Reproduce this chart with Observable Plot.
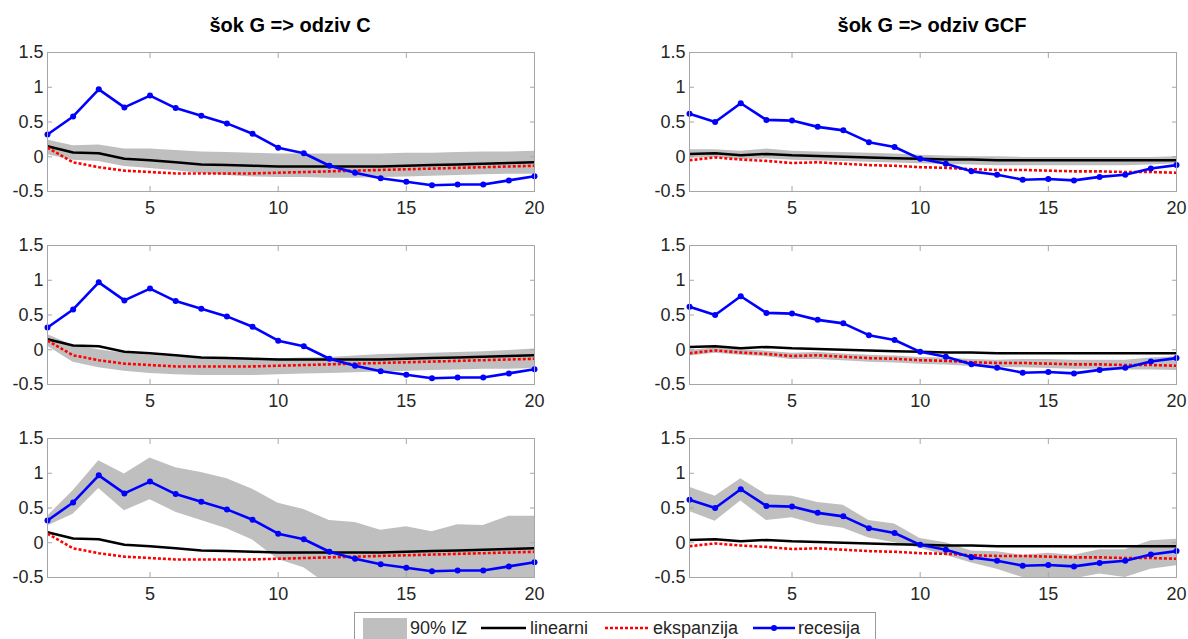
<!DOCTYPE html>
<html>
<head>
<meta charset="utf-8">
<script src="https://cdn.jsdelivr.net/npm/d3@7"></script>
<script src="https://cdn.jsdelivr.net/npm/@observablehq/plot@0.6"></script>
<style>
  html, body { margin: 0; padding: 0; background: #fff; width: 1188px; height: 639px; overflow: hidden; }
  body { position: relative; font-family: "Liberation Sans", Arial, sans-serif; color: #262626; }
  .panel { position: absolute; }
  .title { position: absolute; font-weight: bold; font-size: 20px; line-height: 20px; color: #000; transform: translateX(-50%); white-space: nowrap; }
  #legend { position: absolute; left: 0; top: 0; }
</style>
</head>
<body>
<div class="title" style="left:290px; top:15px;">šok G =&gt; odziv C</div>
<div class="title" style="left:932px; top:15px;">šok G =&gt; odziv GCF</div>
<div id="p00" class="panel" style="left:0px; top:42px;"></div>
<div id="p01" class="panel" style="left:594px; top:42px;"></div>
<div id="p10" class="panel" style="left:0px; top:235px;"></div>
<div id="p11" class="panel" style="left:594px; top:235px;"></div>
<div id="p20" class="panel" style="left:0px; top:428px;"></div>
<div id="p21" class="panel" style="left:594px; top:428px;"></div>
<svg id="legend" width="1188" height="639" style="pointer-events:none">
  <rect x="354.5" y="612.5" width="521" height="40" fill="#fff" stroke="#9a9a9a" stroke-width="1"/>
  <rect x="363" y="618" width="44" height="21" fill="#bfbfbf"/>
  <text x="410" y="634" font-size="18" fill="#262626" font-family="Liberation Sans, Arial, sans-serif">90% IZ</text>
  <line x1="481" y1="628" x2="526" y2="628" stroke="#000" stroke-width="2.5"/>
  <text x="530" y="634" font-size="18" fill="#262626" font-family="Liberation Sans, Arial, sans-serif">linearni</text>
  <line x1="605" y1="628" x2="649" y2="628" stroke="#ff0000" stroke-width="2.5" stroke-dasharray="3,2"/>
  <text x="653" y="634" font-size="18" fill="#262626" font-family="Liberation Sans, Arial, sans-serif">ekspanzija</text>
  <line x1="753" y1="628" x2="795" y2="628" stroke="#0000ff" stroke-width="2.5"/>
  <circle cx="774" cy="628" r="3" fill="#0000ff"/>
  <text x="798" y="634" font-size="18" fill="#262626" font-family="Liberation Sans, Arial, sans-serif">recesija</text>
</svg>
<script>
// ---- data ----
const periods = [1,2,3,4,5,6,7,8,9,10,11,12,13,14,15,16,17,18,19,20];
const xTicks = [5, 10, 15, 20];
const yTicks = [-0.5, 0, 0.5, 1, 1.5];

// response of C
const linC = [0.15,0.06,0.05,-0.03,-0.05,-0.08,-0.11,-0.12,-0.13,-0.14,-0.14,-0.14,-0.14,-0.14,-0.13,-0.12,-0.11,-0.10,-0.09,-0.08];
const expC = [0.13,-0.08,-0.15,-0.20,-0.22,-0.24,-0.24,-0.24,-0.24,-0.23,-0.22,-0.21,-0.20,-0.19,-0.18,-0.17,-0.16,-0.15,-0.14,-0.13];
const recC = [0.32,0.58,0.97,0.71,0.88,0.70,0.59,0.48,0.33,0.13,0.05,-0.13,-0.23,-0.31,-0.36,-0.41,-0.40,-0.40,-0.34,-0.28];
const linC_lo = [0.03,-0.05,-0.07,-0.14,-0.17,-0.20,-0.24,-0.27,-0.29,-0.30,-0.30,-0.31,-0.31,-0.30,-0.29,-0.28,-0.27,-0.26,-0.25,-0.25];
const linC_hi = [0.24,0.16,0.17,0.11,0.11,0.09,0.07,0.06,0.05,0.04,0.04,0.04,0.04,0.04,0.05,0.05,0.06,0.07,0.07,0.08];
const expC_lo = [0.05,-0.18,-0.26,-0.31,-0.34,-0.36,-0.37,-0.37,-0.37,-0.36,-0.35,-0.34,-0.33,-0.32,-0.31,-0.30,-0.29,-0.28,-0.28,-0.27];
const expC_hi = [0.22,0.06,0.00,-0.05,-0.08,-0.10,-0.12,-0.13,-0.13,-0.13,-0.12,-0.11,-0.09,-0.07,-0.06,-0.05,-0.04,-0.03,-0.01,0.01];
const recC_lo = [0.24,0.41,0.78,0.46,0.62,0.44,0.32,0.20,0.04,-0.24,-0.36,-0.62,-0.70,-0.75,-0.78,-0.80,-0.80,-0.78,-0.75,-0.72];
const recC_hi = [0.38,0.75,1.18,0.99,1.22,1.08,1.01,0.92,0.77,0.57,0.48,0.32,0.29,0.18,0.23,0.16,0.26,0.25,0.38,0.38];

// response of GCF
const linG = [0.04,0.05,0.02,0.04,0.02,0.01,0.00,-0.01,-0.02,-0.03,-0.04,-0.04,-0.05,-0.05,-0.05,-0.05,-0.05,-0.05,-0.05,-0.05];
const expG = [-0.05,-0.01,-0.04,-0.06,-0.09,-0.08,-0.10,-0.12,-0.13,-0.15,-0.16,-0.18,-0.19,-0.19,-0.20,-0.21,-0.21,-0.22,-0.22,-0.23];
const recG = [0.62,0.50,0.77,0.53,0.52,0.43,0.38,0.21,0.14,-0.03,-0.10,-0.21,-0.26,-0.33,-0.32,-0.34,-0.29,-0.26,-0.17,-0.12];
const linG_lo = [-0.02,-0.01,-0.04,-0.03,-0.05,-0.06,-0.07,-0.08,-0.09,-0.10,-0.11,-0.12,-0.13,-0.13,-0.13,-0.13,-0.13,-0.13,-0.12,-0.10];
const linG_hi = [0.10,0.10,0.08,0.11,0.08,0.07,0.06,0.05,0.04,0.02,0.01,0.00,0.00,-0.01,-0.01,-0.01,-0.01,-0.01,-0.01,0.00];
const expG_lo = [-0.09,-0.05,-0.08,-0.10,-0.14,-0.14,-0.16,-0.18,-0.19,-0.21,-0.22,-0.24,-0.25,-0.26,-0.27,-0.28,-0.28,-0.29,-0.29,-0.30];
const expG_hi = [-0.01,0.03,0.00,-0.02,-0.05,-0.04,-0.06,-0.08,-0.09,-0.11,-0.12,-0.14,-0.15,-0.14,-0.14,-0.15,-0.15,-0.15,-0.12,-0.10];
const recG_lo = [0.45,0.31,0.60,0.32,0.36,0.26,0.21,0.07,0.00,-0.08,-0.18,-0.29,-0.38,-0.50,-0.50,-0.52,-0.45,-0.50,-0.38,-0.33];
const recG_hi = [0.80,0.67,0.92,0.69,0.67,0.58,0.54,0.32,0.27,0.06,0.00,-0.12,-0.13,-0.18,-0.15,-0.18,-0.10,-0.10,0.03,0.05];

// ---- drawing ----
function rows(lin, exp, rec, lo, hi) {
  return periods.map((p, i) => ({p, lin: lin[i], exp: exp[i], rec: rec[i], lo: lo[i], hi: hi[i]}));
}

function panel(id, data, side) {
  const left = side === 0;
  const chart = Plot.plot({
    width: 594,
    height: 179,
    marginTop: 10,
    marginBottom: 30,
    marginLeft: left ? 47 : 95,
    marginRight: left ? 60 : 12,
    style: {fontFamily: '"Liberation Sans", Arial, sans-serif', fontSize: "18px", color: "#262626", background: "white", overflow: "visible"},
    x: {domain: [1, 20]},
    y: {domain: [-0.5, 1.5]},
    marks: [
      Plot.areaY(data, {x: "p", y1: "lo", y2: "hi", fill: "#bfbfbf", clip: true}),
      Plot.lineY(data, {x: "p", y: "lin", stroke: "#000", strokeWidth: 2.5, clip: true}),
      Plot.lineY(data, {x: "p", y: "exp", stroke: "#ff0000", strokeWidth: 2.6, strokeDasharray: "3,2", strokeLinecap: "butt", clip: true}),
      Plot.lineY(data, {x: "p", y: "rec", stroke: "#0000ff", strokeWidth: 2.6}),
      Plot.dot(data, {x: "p", y: "rec", r: 3, fill: "#0000ff"}),
      Plot.frame({stroke: "#a6a6a6", strokeWidth: 1}),
      Plot.axisX(xTicks, {anchor: "bottom", tickSize: 0, tickPadding: 10, tickFormat: d => String(d), label: null}),
      Plot.axisX(xTicks, {anchor: "bottom", tickSize: -5, tickFormat: () => "", label: null, stroke: "#a6a6a6"}),
      Plot.axisX(xTicks, {anchor: "top", tickSize: -5, tickFormat: () => "", label: null, stroke: "#a6a6a6"}),
      Plot.axisY(yTicks, {anchor: "left", tickSize: 0, tickPadding: 4, tickFormat: d => String(d), label: null}),
      Plot.axisY(yTicks, {anchor: "left", tickSize: -5, tickFormat: () => "", label: null, stroke: "#a6a6a6"}),
      Plot.axisY(yTicks, {anchor: "right", tickSize: -5, tickFormat: () => "", label: null, stroke: "#a6a6a6"})
    ]
  });
  document.getElementById(id).appendChild(chart);
}

panel("p00", rows(linC, expC, recC, linC_lo, linC_hi), 0);
panel("p01", rows(linG, expG, recG, linG_lo, linG_hi), 1);
panel("p10", rows(linC, expC, recC, expC_lo, expC_hi), 0);
panel("p11", rows(linG, expG, recG, expG_lo, expG_hi), 1);
panel("p20", rows(linC, expC, recC, recC_lo, recC_hi), 0);
panel("p21", rows(linG, expG, recG, recG_lo, recG_hi), 1);
</script>
</body>
</html>
